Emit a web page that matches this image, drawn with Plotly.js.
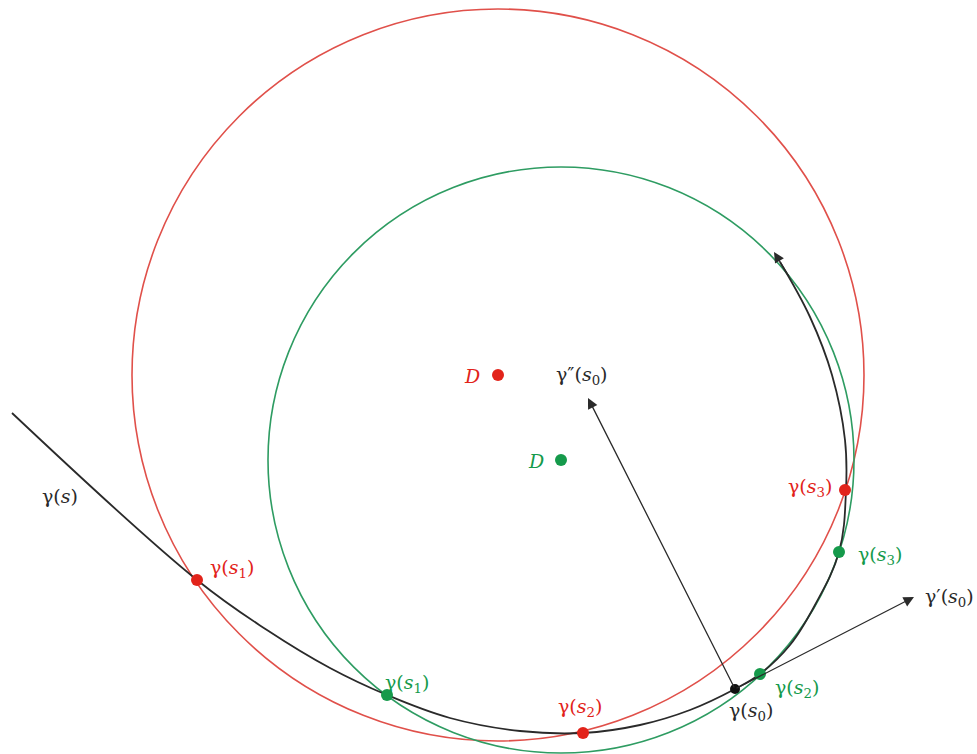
<!DOCTYPE html>
<html>
<head>
<meta charset="utf-8">
<script src="https://cdn.plot.ly/plotly-3.0.1.min.js"></script>
<style>html,body{margin:0;padding:0;background:#fff;}#chart{width:977px;height:754px;}</style>
</head>
<body>
<div id="chart"></div>
<script>
// Curve gamma(s) sample points (pixel-like coordinates)
var curveX = [12, 197, 267, 330, 387, 450, 520, 583, 640, 690, 735, 760, 790, 815, 839, 846, 845, 832, 810, 780];
var curveY = [413, 580, 630, 668, 695, 718, 731, 733, 725, 710, 689, 674, 645, 605, 552, 490, 440, 375, 317, 262];

// Osculating circle approximations
var redCenter = [498, 375];
var redRadius = 366;
var greenCenter = [561, 460];
var greenRadius = 293;

// Marked points
var redPtsX = [197, 583, 845];
var redPtsY = [580, 733, 490];
var greenPtsX = [387, 760, 839];
var greenPtsY = [695, 674, 552];
var s0 = [735, 689];

// Vector tips
var gammaPPTip = [588, 398];
var gammaPTip = [914, 597];
var curveTip = [774, 252];
var curveTail = [790, 278];

var RED = '#e2231a';
var GREEN = '#159a4b';
var REDLINE = '#e0504a';
var GREENLINE = '#2e9c62';
var DARK = '#2a2a2a';

var traces = [
  {x: curveX, y: curveY, mode: 'lines', line: {shape: 'spline', smoothing: 1.1, color: DARK, width: 1.8}, hoverinfo: 'skip'},
  {x: redPtsX, y: redPtsY, mode: 'markers', marker: {color: RED, size: 12}, hoverinfo: 'skip'},
  {x: greenPtsX, y: greenPtsY, mode: 'markers', marker: {color: GREEN, size: 12}, hoverinfo: 'skip'},
  {x: [redCenter[0]], y: [redCenter[1]], mode: 'markers', marker: {color: RED, size: 12}, hoverinfo: 'skip'},
  {x: [greenCenter[0]], y: [greenCenter[1]], mode: 'markers', marker: {color: GREEN, size: 12}, hoverinfo: 'skip'},
  {x: [s0[0]], y: [s0[1]], mode: 'markers', marker: {color: '#111', size: 10}, hoverinfo: 'skip'}
];

var shapes = [
  {type: 'circle', xref: 'x', yref: 'y', x0: redCenter[0] - redRadius, x1: redCenter[0] + redRadius, y0: redCenter[1] - redRadius, y1: redCenter[1] + redRadius, line: {color: REDLINE, width: 1.6}, layer: 'below'},
  {type: 'circle', xref: 'x', yref: 'y', x0: greenCenter[0] - greenRadius, x1: greenCenter[0] + greenRadius, y0: greenCenter[1] - greenRadius, y1: greenCenter[1] + greenRadius, line: {color: GREENLINE, width: 1.6}, layer: 'below'}
];

var F = "'DejaVu Serif', 'Liberation Serif', serif";
function lab(x, y, t, c, xa) {
  return {x: x, y: y, xref: 'x', yref: 'y', text: t, showarrow: false, xanchor: xa || 'center', yanchor: 'middle', font: {family: F, size: 19, color: c}};
}
function arrow(tip, tail) {
  return {x: tip[0], y: tip[1], ax: tail[0], ay: tail[1], xref: 'x', yref: 'y', axref: 'x', ayref: 'y', text: '', showarrow: true, arrowhead: 2, arrowsize: 1.6, arrowwidth: 1.3, arrowcolor: DARK, standoff: 0, startstandoff: 0};
}

var annotations = [
  arrow(gammaPPTip, s0),
  arrow(gammaPTip, s0),
  arrow(curveTip, curveTail),
  lab(60, 496, 'γ(<i>s</i>)', DARK),
  lab(232, 568, 'γ(<i>s</i><sub>1</sub>)', RED),
  lab(407, 683, 'γ(<i>s</i><sub>1</sub>)', GREEN),
  lab(580, 707, 'γ(<i>s</i><sub>2</sub>)', RED),
  lab(751, 711, 'γ(<i>s</i><sub>0</sub>)', DARK),
  lab(797, 688, 'γ(<i>s</i><sub>2</sub>)', GREEN),
  lab(810, 487, 'γ(<i>s</i><sub>3</sub>)', RED),
  lab(880, 555, 'γ(<i>s</i><sub>3</sub>)', GREEN),
  lab(923, 597, 'γ′(<i>s</i><sub>0</sub>)', DARK, 'left'),
  lab(582, 375, 'γ″(<i>s</i><sub>0</sub>)', DARK),
  lab(472, 376, '<i>D</i>', RED),
  lab(536, 461, '<i>D</i>', GREEN)
];

var layout = {
  width: 977, height: 754,
  margin: {l: 0, r: 0, t: 0, b: 0},
  paper_bgcolor: '#fff', plot_bgcolor: '#fff',
  showlegend: false,
  xaxis: {range: [0, 977], visible: false, fixedrange: true},
  yaxis: {range: [754, 0], visible: false, fixedrange: true},
  shapes: shapes,
  annotations: annotations
};

Plotly.newPlot('chart', traces, layout, {displayModeBar: false, staticPlot: true});
</script>
</body>
</html>
